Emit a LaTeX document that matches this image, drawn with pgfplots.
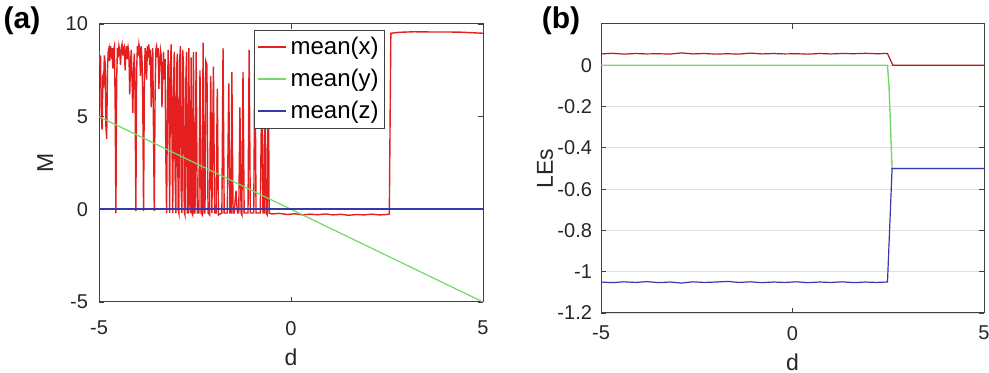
\documentclass[border=0pt]{standalone}
\usepackage{fontspec}
\setmainfont{Liberation Sans}
\usepackage{pgfplots}
\pgfplotsset{compat=1.18}
\definecolor{mred}{rgb}{0.9,0.12,0.12}
\definecolor{mgreen}{rgb}{0.45,0.85,0.4}
\definecolor{mblue}{rgb}{0.22,0.22,0.68}
\definecolor{axgray}{rgb}{0.25,0.25,0.25}
\begin{document}
\begin{tikzpicture}
\path[use as bounding box] (0,0) rectangle (494.5pt,186.5pt);
\pgfplotsset{
  every axis/.append style={
    scale only axis,
    anchor=south west,
    tick align=inside,
    major tick length=2.5pt,
    axis line style={axgray, line width=0.5pt},
    every tick/.style={axgray, line width=0.4pt},
    /pgf/number format/assume math mode=true,
    tick label style={font=\fontsize{10}{12}\selectfont, text=black!85},
    label style={font=\fontsize{11.5}{13}\selectfont, text=black!85},
    scaled ticks=false,
  }
}
% ---------------- (a) ----------------
\begin{axis}[
  at={(49.5pt,35.5pt)}, width=192pt, height=139pt,
  xmin=-5, xmax=5, ymin=-5, ymax=10,
  xtick={-5,0,5}, ytick={-5,0,5,10},
  xticklabel style={yshift=-6pt},
  yticklabel style={xshift=-2pt},
  xlabel={d}, ylabel={M},
  xlabel style={at={(axis description cs:0.5,-0.2)}, anchor=center},
  ylabel style={at={(axis description cs:-0.14,0.5)}, anchor=center, rotate=0},
  legend style={at={(axis description cs:0.745,0.978)}, anchor=north east,
    font=\fontsize{12}{13}\selectfont, draw=axgray,
    inner xsep=1pt, inner ysep=1.5pt, row sep=1.8pt},
  legend cell align=left,
  legend image code/.code={\draw[#1, line width=0.9pt] (0pt,0.3pt) -- (14pt,0.3pt);},
]
\addplot[color=mred, line width=0.7pt] coordinates {
(-5.00,8.6)(-4.98,7.8)(-4.96,8.3)(-4.94,5.0)(-4.92,4.3)(-4.90,7.0)(-4.88,6.8)(-4.86,8.3)
(-4.84,7.9)(-4.82,4.5)(-4.80,3.8)(-4.78,7.5)(-4.76,8.5)(-4.74,8.7)(-4.72,8.0)(-4.70,8.8)
(-4.68,8.4)(-4.66,8.7)(-4.64,7.6)(-4.62,8.6)(-4.60,8.8)(-4.58,6.0)(-4.56,-0.2)(-4.54,7.0)
(-4.52,8.7)(-4.50,8.2)(-4.48,8.8)(-4.46,8.5)(-4.44,7.8)(-4.42,8.7)(-4.40,8.9)(-4.38,8.3)
(-4.36,8.7)(-4.34,8.8)(-4.32,7.5)(-4.30,8.5)(-4.28,8.8)(-4.26,8.1)(-4.24,8.7)(-4.22,8.4)
(-4.20,6.2)(-4.18,7.8)(-4.16,8.6)(-4.14,7.0)(-4.12,5.2)(-4.10,7.5)(-4.08,8.4)(-4.06,6.0)
(-4.04,-0.1)(-4.02,7.5)(-4.00,8.8)(-3.98,8.3)(-3.96,8.9)(-3.94,8.6)(-3.92,7.2)(-3.90,8.8)
(-3.88,8.1)(-3.86,6.0)(-3.84,-0.1)(-3.82,6.5)(-3.80,8.7)(-3.78,8.4)(-3.76,7.0)(-3.74,8.8)
(-3.72,8.5)(-3.70,8.9)(-3.68,7.8)(-3.66,8.6)(-3.64,5.5)(-3.62,7.8)(-3.60,8.7)(-3.58,4.0)
(-3.56,-0.1)(-3.54,6.0)(-3.52,8.6)(-3.50,8.8)(-3.48,8.2)(-3.46,8.7)(-3.44,6.5)(-3.42,8.0)
(-3.40,8.6)(-3.38,8.3)(-3.36,5.5)(-3.34,7.2)(-3.32,8.5)(-3.30,7.0)(-3.28,8.1)(-3.26,3.0)
(-3.24,-0.2)(-3.22,5.0)(-3.20,8.6)(-3.18,6.0)(-3.16,-0.2)(-3.14,7.8)(-3.12,8.9)(-3.10,4.0)
(-3.08,-0.2)(-3.06,6.5)(-3.04,8.5)(-3.02,2.0)(-3.00,-0.2)(-2.98,7.5)(-2.96,8.4)(-2.94,0.0)
(-2.92,-0.2)(-2.90,8.0)(-2.88,8.8)(-2.86,1.0)(-2.84,-0.2)(-2.82,8.6)(-2.80,7.8)(-2.78,-0.1)
(-2.76,-0.3)(-2.74,6.8)(-2.72,8.5)(-2.70,-0.2)(-2.68,-0.2)(-2.66,8.7)(-2.64,0.5)(-2.62,-0.2)
(-2.60,8.2)(-2.58,-0.2)(-2.56,-0.3)(-2.54,8.5)(-2.52,-0.2)(-2.50,-0.2)(-2.47,8.5)(-2.44,-0.2)
(-2.40,-0.2)(-2.37,7.5)(-2.34,-0.2)(-2.31,-0.3)(-2.29,9.0)(-2.26,-0.2)(-2.24,-0.2)(-2.22,8.0)
(-2.19,7.8)(-2.16,-0.2)(-2.12,-0.3)(-2.09,7.2)(-2.06,-0.2)(-2.02,7.7)(-1.99,-0.2)(-1.95,-0.2)
(-1.92,6.5)(-1.89,-0.3)(-1.80,-0.2)(-1.77,8.7)(-1.74,-0.2)(-1.66,-0.2)(-1.62,6.8)(-1.59,-0.2)
(-1.56,-0.2)(-1.54,7.4)(-1.51,-0.2)(-1.48,-0.2)(-1.45,0.6)(-1.43,1.0)(-1.41,0.2)(-1.39,-0.2)
(-1.36,-0.2)(-1.33,5.5)(-1.30,-0.2)(-1.28,-0.3)(-1.25,7.4)(-1.22,-0.2)(-1.12,-0.2)(-1.09,8.6)
(-1.06,-0.2)(-0.97,-0.2)(-0.94,9.0)(-0.91,-0.2)(-0.80,-0.2)(-0.76,7.0)(-0.73,-0.2)(-0.70,-0.2)
(-0.68,8.5)(-0.65,-0.2)(-0.62,-0.3)(-0.59,8.0)(-0.57,-0.2)
(-0.50,-0.25)(-0.30,-0.22)(-0.10,-0.28)(0.10,-0.24)(0.30,-0.30)(0.50,-0.26)(0.70,-0.29)
(0.90,-0.25)(1.10,-0.30)(1.30,-0.27)(1.50,-0.32)(1.70,-0.28)(1.90,-0.30)(2.10,-0.26)
(2.30,-0.30)(2.50,-0.28)(2.56,-0.25)(2.60,9.50)(2.80,9.55)(3.20,9.58)(3.60,9.57)
(4.00,9.57)(4.40,9.56)(4.80,9.52)(5.00,9.50)
};
\addlegendentry{mean(x)}
\addplot[color=mgreen, line width=0.6pt] coordinates {(-5,5)(5,-5)};
\addlegendentry{mean(y)}
\addplot[color=mblue, line width=0.7pt] coordinates {(-5,0.02)(5,0.02)};
\addlegendentry{mean(z)}
\end{axis}
\node[font=\bfseries\fontsize{15}{17}\selectfont] at (11pt,176pt) {(a)};
% ---------------- (b) ----------------
\begin{axis}[
  at={(300.5pt,30pt)}, width=191.5pt, height=144.5pt,
  xmin=-5, xmax=5, ymin=-1.2, ymax=0.2,
  xtick={-5,0,5}, ytick={-1.2,-1,-0.8,-0.6,-0.4,-0.2,0},
  yticklabels={-1.2,-1,-0.8,-0.6,-0.4,-0.2,0},
  ymajorgrids, major grid style={black!12, line width=0.6pt},
  xticklabel style={yshift=-3pt},
  yticklabel style={xshift=-1pt},
  xlabel={d}, ylabel={LEs},
  xlabel style={at={(axis description cs:0.5,-0.17)}, anchor=center},
  ylabel style={at={(axis description cs:-0.146,0.5)}, anchor=center},
]
\addplot[color=mred!80!black, line width=0.6pt] coordinates {
(-5.0,0.055)(-4.7,0.058)(-4.4,0.054)(-4.1,0.057)(-3.8,0.055)(-3.5,0.056)(-3.2,0.054)
(-2.9,0.060)(-2.6,0.055)(-2.3,0.057)(-2.0,0.054)(-1.7,0.056)(-1.4,0.054)(-1.1,0.059)
(-0.8,0.055)(-0.5,0.057)(-0.2,0.055)(0.1,0.056)(0.4,0.054)(0.7,0.057)(1.0,0.055)
(1.3,0.057)(1.6,0.056)(1.9,0.058)(2.2,0.056)(2.48,0.057)(2.62,0.0)(5.0,0.0)
};
\addplot[color=mgreen, line width=0.7pt] coordinates {
(-5.0,0.0)(2.48,0.0)(2.52,-0.1)(2.56,-0.3)(2.60,-0.5)(5.0,-0.5)
};
\addplot[color=mblue, line width=0.6pt] coordinates {
(-5.0,-1.050)(-4.7,-1.053)(-4.4,-1.049)(-4.1,-1.052)(-3.8,-1.048)(-3.5,-1.053)(-3.2,-1.050)
(-2.9,-1.055)(-2.6,-1.049)(-2.3,-1.052)(-2.0,-1.050)(-1.7,-1.047)(-1.4,-1.052)(-1.1,-1.049)
(-0.8,-1.053)(-0.5,-1.050)(-0.2,-1.052)(0.1,-1.049)(0.4,-1.053)(0.7,-1.050)(1.0,-1.052)
(1.3,-1.049)(1.6,-1.053)(1.9,-1.050)(2.2,-1.052)(2.48,-1.050)(2.60,-0.5)(5.0,-0.5)
};
\end{axis}
\node[font=\bfseries\fontsize{15}{17}\selectfont] at (280.5pt,176pt) {(b)};
\end{tikzpicture}
\end{document}
